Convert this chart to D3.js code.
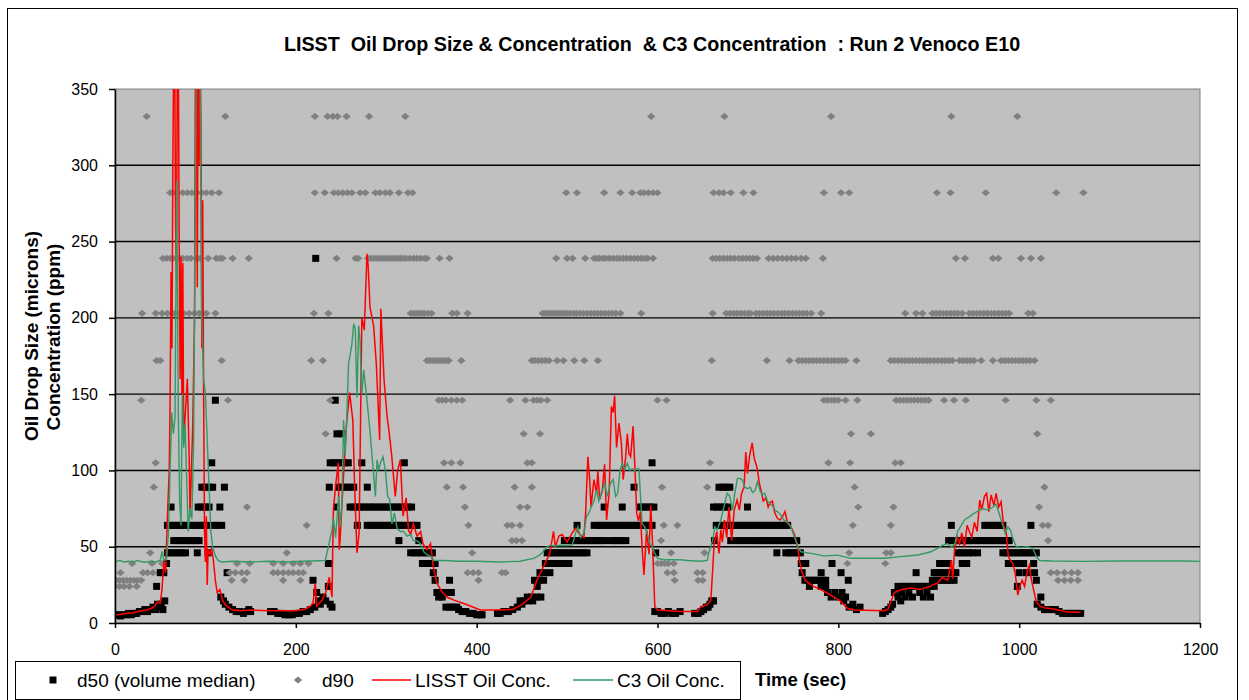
<!DOCTYPE html>
<html>
<head>
<meta charset="utf-8">
<script src="https://cdn.jsdelivr.net/npm/d3@7"></script>
<style>
body { margin: 0; background: white; }
text { font-family: Arial, "Liberation Sans", sans-serif; fill: black; }
.axis path, .axis line { stroke: black; stroke-width: 1.5; fill: none; }
.axis text { font-size: 16px; }
</style>
</head>
<body>
<script>

// LISST size bins (microns), shared by d50 and d90
const sizeBins = [332, 282, 239, 203, 172, 146, 124, 105, 89, 76, 64, 54, 46, 39, 33, 28, 24, 20, 17, 14.5, 12.3, 10.4, 8.8, 7.5, 6.3, 5.4, 4.6];

// times (sec) at which d50 fell in each bin, same order as sizeBins
const d50Times = [
  [], [], [222], [], [],
  [111, 243.6],
  [245.5, 251],
  [107, 238, 242, 246, 250, 254, 258, 273, 320, 594],
  [96, 100, 104, 108, 121, 237, 247, 251, 255, 259, 264, 279, 574, 668, 672, 676, 680],
  [62, 92, 96, 100, 104, 116, 245, 260, 264, 268, 272, 276, 280, 284, 288, 292, 296, 300, 304, 308, 312, 316, 320, 324, 328, 541, 561, 580, 584, 588, 592, 596, 662, 666, 670, 674, 678, 699.5],
  [58, 62, 66, 70, 74, 78, 83, 87, 91, 95, 99, 103, 109, 113, 118, 268, 279, 283, 287, 291, 295, 299, 303, 307, 311, 315, 319, 323, 327, 331, 334, 511, 530, 534, 538, 542, 546, 550, 554, 558, 562, 566, 570, 574, 578, 582, 586, 590, 594, 665, 669, 673, 677, 681, 685, 689, 693, 697, 701, 705, 709, 713, 717, 721, 725, 729, 733, 737, 741, 744, 925, 962, 966, 970, 974, 978, 982, 1013],
  [65, 69, 73, 77, 81, 85, 89, 93, 314, 336, 497, 501, 505, 509, 513, 517, 521, 525, 529, 533, 537, 541, 548, 552, 556, 560, 565, 663, 681, 688, 693, 698, 703, 709, 713, 717, 721, 725, 729, 733, 737, 741, 745, 749, 754, 922, 926, 930, 934, 938, 942, 946, 950, 954, 958, 962, 966, 970, 974, 978, 982, 986, 989],
  [58, 62, 66, 70, 74, 78, 91, 103, 327, 331, 335, 339, 343, 347, 351, 478, 482, 486, 490, 494, 498, 502, 506, 510, 514, 518, 522, 598, 732, 742, 746, 750, 754, 758, 932, 936, 940, 944, 948, 954, 982, 986, 990, 994, 998, 1002, 1006, 1010, 1014, 1019],
  [57, 236, 340, 344, 348, 354, 476, 480, 484, 488, 492, 497, 502, 759, 764, 793, 912, 917, 922, 937, 942, 988, 994, 998, 1005, 1016],
  [50, 54, 124, 352, 470, 475, 481, 760, 781, 803, 886, 906, 910, 914, 918, 922, 926, 930, 1000, 1008, 1017],
  [219, 354, 370, 464, 469, 474, 763, 767, 771, 775, 779, 783, 786, 811, 904, 908, 912, 916, 920, 924, 928, 1019],
  [46, 236, 467, 768, 781, 786, 866, 870, 874, 878, 882, 886, 890, 894, 898, 902, 906, 998],
  [223, 356, 360, 364, 368, 372, 788, 796, 804, 862, 870, 878, 890, 898],
  [117, 230, 358, 362, 456, 461, 466, 471, 792, 800, 808, 866, 874, 882, 894, 902, 1024],
  [55, 120, 225, 233, 448, 452, 457, 462, 660, 662, 806, 869],
  [47, 51, 122, 227, 238, 450, 658, 816, 860, 1020],
  [42, 49, 126, 221, 240, 366, 370, 374, 378, 445, 654, 656, 812, 824, 858, 1024],
  [33, 39, 45, 53, 130, 148, 216, 380, 440, 651, 820, 855, 1028, 1032, 1036, 1040],
  [27, 30, 36, 134, 138, 146, 150, 172, 176, 208, 212, 384, 388, 430, 435, 597, 600, 612, 625, 648, 852, 1044],
  [15, 21, 24, 142, 180, 184, 200, 204, 392, 396, 423, 426, 604, 608, 616, 620, 641, 645, 849, 1048, 1052, 1056, 1060, 1064, 1068],
  [0, 3, 9, 12, 18, 188, 192, 196, 400, 404, 406],
  [6]
];

// times (sec) at which d90 fell in each bin
const d90Times = [
  [35, 122, 221, 235, 241, 246, 256, 281, 321, 593, 674, 792, 925, 998],
  [61, 64, 75, 80, 85, 90, 96, 101, 107, 115, 221, 232, 242, 247, 252, 257, 262, 271, 277, 288, 293, 299, 304, 314, 324, 329, 499, 511, 541, 559, 572, 581, 585, 590, 595, 600, 662, 668, 673, 681, 695, 706, 784, 803, 812, 909, 924, 963, 1041, 1071],
  [53, 57, 61, 64, 68, 72, 75, 80, 84, 90, 94, 103, 112, 116, 119, 130, 148, 245, 266, 269, 280, 283, 286, 289, 292, 295, 298, 301, 304, 307, 310, 313, 316, 319, 322, 326, 330, 334, 338, 342, 345, 359, 370, 488, 500, 506, 520, 530, 533, 536, 540, 543, 547, 551, 555, 558, 562, 566, 570, 574, 578, 582, 586, 589, 595, 661, 665, 669, 673, 677, 681, 685, 690, 694, 698, 702, 706, 710, 723, 728, 733, 738, 743, 748, 753, 759, 764, 783, 930, 940, 971, 977, 1002, 1013, 1024],
  [30, 45, 52, 58, 66, 71, 76, 82, 88, 93, 101, 111, 220, 236, 327, 330, 333, 336, 339, 342, 346, 350, 373, 378, 390, 473, 476, 479, 482, 485, 488, 491, 494, 497, 500, 503, 507, 510, 514, 518, 522, 526, 530, 534, 538, 542, 546, 550, 554, 559, 582, 661, 676, 680, 684, 688, 692, 696, 700, 703, 709, 713, 717, 721, 725, 729, 733, 737, 741, 745, 749, 753, 757, 761, 765, 770, 781, 874, 886, 893, 904, 908, 912, 916, 920, 924, 928, 932, 937, 945, 949, 953, 957, 961, 965, 969, 973, 977, 981, 985, 989, 1010, 1015],
  [46, 50, 118, 217, 230, 345, 348, 351, 354, 357, 360, 363, 366, 369, 383, 461, 464, 468, 472, 476, 480, 489, 496, 508, 519, 534, 660, 721, 746, 756, 760, 764, 768, 772, 776, 780, 784, 788, 792, 796, 800, 804, 808, 820, 858, 862, 866, 870, 874, 878, 882, 886, 890, 894, 898, 902, 906, 910, 914, 918, 922, 926, 934, 938, 942, 946, 950, 958, 971, 980, 984, 988, 992, 996, 1000, 1004, 1008, 1012, 1017],
  [29, 125, 238, 358, 362, 366, 372, 378, 384, 437, 454, 463, 467, 471, 478, 600, 610, 784, 788, 792, 796, 800, 808, 821, 864, 868, 872, 876, 880, 884, 888, 892, 896, 900, 917, 928, 941, 985, 1019, 1035],
  [233, 452, 470, 814, 836, 1020],
  [45, 364, 372, 382, 456, 461, 658, 789, 813, 863, 869],
  [43, 367, 385, 442, 461, 605, 655, 818, 1028],
  [146, 387, 448, 456, 822, 861, 1022],
  [212, 391, 434, 439, 448, 607, 622, 816, 858, 1026, 1032],
  [439, 444, 450, 604, 1032],
  [39, 190, 395, 615, 652, 812, 853, 858],
  [19, 41, 52, 135, 149, 175, 186, 197, 205, 214, 600, 604, 608, 612, 618, 810, 852],
  [6, 31, 36, 42, 127, 133, 140, 146, 175, 180, 186, 192, 197, 203, 208, 390, 396, 402, 428, 432, 611, 618, 644, 650, 1035, 1042, 1050, 1058, 1065],
  [1, 5, 9, 13, 17, 21, 25, 29, 129, 143, 186, 205, 402, 619, 645, 650, 1043, 1050, 1057, 1065],
  [0, 5, 10, 16, 24],
  [], [], [], [], [], [], [], [], [], []
];

// LISST oil concentration (ppm): [time, value]
const lisstConc = [
  [0,5],[5,5.5],[10,6],[15,6.5],[20,6.5],[25,7.5],[30,8],[35,8.5],[40,9.5],[44,11],[47,14],[50,13],[52,22],[54,40],[56,33],[58,70],[60,100],[61,150],[62,230],[63,180],[64,300],[65,380],[66,380],[67,260],[68,225],[69,380],[70,380],[71,250],[72,160],[73,240],[74,150],[75,236],[76,120],[78,140],[80,160],[82,110],[83,70],[84,90],[86,130],[88,200],[89,380],[90,380],[91,220],[92,380],[93,300],[94,380],[95,330],[96,180],[97,277],[98,150],[99,60],[100,40],[101,70],[102,25],[103,48],[105,45],[107,49],[109,40],[111,28],[113,20],[116,22],[119,15],[122,12],[126,10],[130,8.5],[140,8],[150,8.5],[172,8],[200,8],[210,9],[216,11],[219,13],[221.5,26],[223,11],[229,15],[233,20],[237,30],[240,17],[241.5,74],[244,90],[247,105],[248,48],[249,55],[252.6,95],[256,130],[259.5,151],[263,133],[265,90],[267.6,46],[270,59],[273,200],[275.7,192],[278.7,242],[280,234],[282,207],[286,195],[289,170],[292.7,120],[294,206],[297.6,159],[301,135],[303,126],[306,110],[310,83],[312.6,100],[315.6,107],[318.6,70],[322,82],[324.6,61],[327,58],[330,65],[334,57],[338,60],[340.6,52],[345,48],[349,52],[352,37],[356,26],[361,21],[367,17],[375,15],[389.5,12],[404,8.5],[426,8.5],
  [440,9],[450,12],[460,17],[466.6,28],[474,37],[478,42],[481,46],[485,60],[487,50],[491,57],[494.6,58],[500,53],[505.7,59],[509.4,62],[514,58],[518.6,56],[520.5,72],[523,109],[525,94],[526.5,76],[529.7,94],[532.7,85],[534,100],[536,81],[539,87],[541.5,104],[543.7,67.5],[546.5,85],[549,142],[551,138],[552.6,149],[554.7,115],[557.4,131],[560,118],[562,94],[564.8,109],[566.6,124],[568.4,111],[570.3,109],[573,129],[575,102],[577,72],[579,67],[581,73],[583,49],[585,31.5],[588,61],[590.6,45],[592.5,77],[594.3,55],[597,10.7],[600,8.5],[625,7.5],[644,7.5],[648,10.7],[655,12],[659,15],
  [661,34.7],[662.6,52],[665.6,60],[668,45.6],[670,61],[671.8,53],[674,67.5],[676.6,56],[679,76],[682,54],[684.8,74],[688,80.6],[690.6,74],[693,85],[695.8,89],[697.6,112],[699.5,98],[702,110],[704.7,118],[707,108],[710,102],[712.7,91.5],[714.5,87],[717,80],[720,82],[722.4,76],[724.6,79],[727,80],[729.8,72],[732.6,68.6],[735.5,67.5],[738.6,70],[741,73],[743.8,66],[746.7,64],[749.3,61],[752,57],[755,50],[757,41],[759.3,34.7],[763,28],[768,26],[773,23.8],[780,22],[788,19.5],[795.5,17],[803,14],[810,9.6],[818,8.5],[851,8],
  [855,9],[862,20],[870,22],[880,23],[890,22],[902,24],[904,25],[909.6,26],[915,30],[921,28],[925,41],[926.6,29],[928.5,48],[931.5,56.6],[934,52],[936.5,59],[939.5,50],[942.4,64],[945,60],[947.6,56],[950.5,66],[953.5,60],[956.4,80.6],[958.6,74],[961.6,83],[964,85],[966.5,73],[969,84],[972,77],[974.5,85],[977.4,76],[980,79.5],[983,63],[985.6,60],[988,43.5],[990.3,41],[993,39],[995.6,32.6],[998.5,18.3],[1000.7,24],[1003.3,28],[1006,24],[1009,34.7],[1011.4,38],[1013,30],[1016,21.6],[1019,14],[1023,11],[1028,10],[1040,9],[1050,7.5],[1060,7],[1068,7]
];

// C3 oil concentration (ppm): [time, value]
const c3Conc = [
  [0,40],[5,41],[10,40],[15,40.5],[20,40],[25,41],[30,40],[35,40],[40,40.5],[45,40],[50,41],[52,47],[54,41],[57,42],[59,58],[61,102],[62.7,138],[64.5,124],[66.4,135],[68.3,290],[70,140],[71.5,80],[73,64],[74.5,150],[76,115],[77.5,130],[79,100],[81,60],[83,75],[85,68],[87,120],[88.5,250],[90,370],[92,380],[94,370],[96,200],[98,160],[100,150],[102,120],[104,90],[106,60],[108,50],[111,44],[114,41],[118,40],[130,40.5],[150,40],[170,40.5],[190,40],[210,40.5],[232.6,41],
  [236,50],[240,61],[241.5,69],[244,56],[247.3,83],[249,63],[251,78.6],[252.8,133],[254.6,110],[256.4,135],[258.3,170],[260.2,176],[262,183],[264,196],[265.7,193],[267.6,148],[269.5,195],[271,185],[273,150],[275,166],[278,150],[280.5,135],[282,126],[285,104.6],[288,83],[289.8,107],[291.6,100],[293.4,104.6],[296.4,109],[299,100],[301.6,83],[303.8,81],[306.3,65],[309,72],[312,62],[315.6,60],[319.3,60],[323,57],[326.7,58],[330,54],[334,54],[337.8,52],[341.5,46.7],[345,44.8],[349,43.7],[352.6,41],[363.6,41],[380,40.5],[400,40.5],[426,40],[448,40.5],[463,42.4],[470,44.6],
  [478,50],[481.7,51],[485,50.5],[492.6,51],[500,50.7],[505.7,51],[509.4,58.8],[512,63],[515,56],[518.6,59],[521.5,69.7],[524,72],[526.8,76],[529.7,80],[532.7,87],[535,80],[539,87],[541.5,91.5],[544.5,83],[548,91.5],[551,94],[553.7,83],[556,85],[558.5,100],[561,104.6],[563.6,100.6],[566.6,104.6],[569.5,100],[572,101],[574.7,100],[577.5,101],[579.5,101],[581,85],[583,65],[585.8,63],[588.6,59],[591.5,52],[594.3,50],[597,45.6],[600,42.4],[607,41.5],[625.7,41.5],[633,41],[647,40.5],[655,41],
  [657,46.7],[661,54],[663.4,63],[666,61],[670,67.5],[674.4,78.4],[677,85],[680,83],[683,74],[685.6,85.5],[688.4,94.8],[691,94.8],[694,93.7],[696.6,89],[699.5,88],[702.5,89],[705,85.5],[707.6,86.5],[710.5,92.6],[713.5,86.5],[716,84],[718.6,85],[721.7,79.8],[724.6,78],[727,77],[730,74],[732.6,73],[736.4,70.8],[739.5,67.5],[742,67],[744.6,65],[747.5,63],[750.5,58],[753,54],[755.8,49],[758.6,46.7],[769.6,45.6],[784,44],[799,44.5],[814,42.4],[851,42.4],[869,43.5],[888,44.6],[902.5,46.7],[910,49],[915.5,51],[921,52],[925,50],[928.3,51],
  [932,60],[935,63],[939.5,67.5],[945,69.7],[950.5,72],[956,74],[959.8,75],[965,74],[970.9,76],[974.5,78],[978.2,71],[982,64],[984.5,58.8],[987.5,63],[990.3,61],[993,55.5],[996.7,50],[1002,49.5],[1009.6,50],[1015,49],[1019,43.5],[1022.6,41],[1035.4,40.6],[1072,40.4],[1109,40.6],[1146,40.6],[1183,40.6],[1200,40.4]
];

const xTicks = [0, 200, 400, 600, 800, 1000, 1200];
const yTicks = [0, 50, 100, 150, 200, 250, 300, 350];

const svg = d3.select("body")
            .append("svg")
            .attr("width", 1249)
            .attr("height", 700);

const plot = {left: 115, right: 1200, top: 89, bottom: 623};

const xScale = d3.scaleLinear().domain([0, 1200]).range([plot.left, plot.right]);
const yScale = d3.scaleLinear().domain([0, 350]).range([plot.bottom, plot.top]);

// chart frame
svg.append("rect")
   .attr("x", 7.5).attr("y", 8.5)
   .attr("width", 1230).attr("height", 700)
   .attr("fill", "white").attr("stroke", "black").attr("stroke-width", 1);

// plot area
svg.append("rect")
   .attr("x", plot.left).attr("y", plot.top)
   .attr("width", plot.right - plot.left).attr("height", plot.bottom - plot.top)
   .attr("fill", "#c0c0c0").attr("stroke", "#808080").attr("stroke-width", 1);

svg.append("g").selectAll("line")
   .data(yTicks.filter(v => v > 0 && v < 350))
   .join("line")
   .attr("x1", plot.left).attr("x2", plot.right)
   .attr("y1", d => yScale(d)).attr("y2", d => yScale(d))
   .attr("stroke", "black").attr("stroke-width", 1.4);

svg.append("defs").append("clipPath").attr("id", "clip")
   .append("rect")
   .attr("x", plot.left).attr("y", plot.top)
   .attr("width", plot.right - plot.left).attr("height", plot.bottom - plot.top);

const layer = svg.append("g").attr("clip-path", "url(#clip)");

// d50 squares
const d50 = [];
d50Times.forEach((ts, i) => ts.forEach(t => d50.push([t, sizeBins[i]])));
layer.append("g").selectAll("rect")
   .data(d50)
   .join("rect")
   .attr("x", d => xScale(d[0]) - 3.5)
   .attr("y", d => yScale(d[1]) - 3.5)
   .attr("width", 7).attr("height", 7)
   .attr("fill", "black");

// d90 diamonds
const d90 = [];
d90Times.forEach((ts, i) => ts.forEach(t => d90.push([t, sizeBins[i]])));
const diamond = "M0,-3.6L4.2,0L0,3.6L-4.2,0Z";
layer.append("g").selectAll("path")
   .data(d90)
   .join("path")
   .attr("transform", d => `translate(${xScale(d[0])},${yScale(d[1])})`)
   .attr("d", diamond)
   .attr("fill", "#808080");

const line = d3.line().x(d => xScale(d[0])).y(d => yScale(d[1]));

layer.append("path").datum(lisstConc)
   .attr("fill", "none").attr("stroke", "#ff0000").attr("stroke-width", 1.5)
   .attr("d", line);

layer.append("path").datum(c3Conc)
   .attr("fill", "none").attr("stroke", "#339966").attr("stroke-width", 1.4)
   .attr("d", line);

// axes
svg.append("g")
   .attr("class", "axis")
   .attr("transform", `translate(${plot.left},0)`)
   .call(d3.axisLeft(yScale).tickValues(yTicks).tickSize(6).tickSizeOuter(0).tickPadding(11));

svg.append("g")
   .attr("class", "axis")
   .attr("transform", `translate(0,${plot.bottom})`)
   .call(d3.axisBottom(xScale).tickValues(xTicks).tickFormat(d3.format("d"))
         .tickSize(5).tickSizeOuter(0).tickPadding(16));

// title
svg.append("text")
   .attr("x", 652).attr("y", 51)
   .attr("text-anchor", "middle")
   .attr("xml:space", "preserve")
   .style("white-space", "pre")
   .style("font-size", "19.7px").style("font-weight", "bold")
   .text("LISST  Oil Drop Size & Concentration  & C3 Concentration  : Run 2 Venoco E10");

// y label
svg.append("text")
   .attr("transform", "translate(38,336) rotate(-90)")
   .attr("text-anchor", "middle")
   .style("font-size", "19px").style("font-weight", "bold")
   .text("Oil Drop Size (microns)");
svg.append("text")
   .attr("transform", "translate(60,337) rotate(-90)")
   .attr("text-anchor", "middle")
   .style("font-size", "19px").style("font-weight", "bold")
   .text("Concentration (ppm)");

// x label
svg.append("text")
   .attr("x", 755).attr("y", 686)
   .style("font-size", "18.5px").style("font-weight", "bold")
   .text("Time (sec)");

// legend
const legend = svg.append("g");
legend.append("rect")
   .attr("x", 15.5).attr("y", 661.5).attr("width", 725).attr("height", 38)
   .attr("fill", "white").attr("stroke", "black");
legend.append("rect").attr("x", 49.5).attr("y", 676.5).attr("width", 7).attr("height", 7).attr("fill", "black");
legend.append("path").attr("transform", "translate(298,680)").attr("d", diamond).attr("fill", "#808080");
legend.append("line").attr("x1", 372).attr("x2", 411).attr("y1", 680).attr("y2", 680)
   .attr("stroke", "#ff0000").attr("stroke-width", 1.5);
legend.append("line").attr("x1", 573).attr("x2", 613).attr("y1", 680).attr("y2", 680)
   .attr("stroke", "#339966").attr("stroke-width", 1.5);
const legendTexts = [["d50 (volume median)", 77], ["d90", 322], ["LISST Oil Conc.", 415], ["C3 Oil Conc.", 617]];
legend.selectAll("text.item")
   .data(legendTexts)
   .join("text")
   .attr("class", "item")
   .attr("x", d => d[1]).attr("y", 687)
   .style("font-size", "19px")
   .text(d => d[0]);

</script>
</body>
</html>
